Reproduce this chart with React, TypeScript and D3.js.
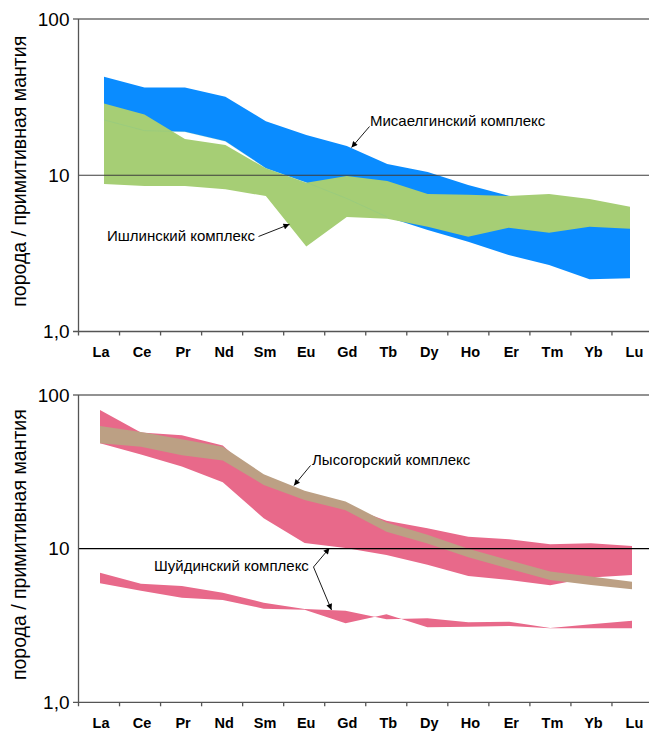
import React from "react";
import * as d3 from "d3";

// Rare earth elements along the x axis
const elements = ["La", "Ce", "Pr", "Nd", "Sm", "Eu", "Gd", "Tb", "Dy", "Ho", "Er", "Tm", "Yb", "Lu"];

// Y axis tick values and their labels
const yTicks = [1, 10, 100];
const yTickLabels = ["1,0", "10", "100"];

// Upper panel: Мисаелгинский комплекс (range of normalised contents)
const misaelgaMax = [42.7, 36.5, 36.5, 31.8, 22.2, 18.1, 15.4, 11.8, 10.5, 8.65, 7.4, 6.8, 6.3, 6.0];
const misaelgaMin = [22.6, 19.3, 19.0, 16.5, 11.1, 9.0, 7.1, 5.4, 4.46, 3.75, 3.09, 2.66, 2.16, 2.19];

// Upper panel: Ишлинский комплекс
const ishlaMax = [28.8, 24.5, 17.05, 15.6, 11.07, 8.95, 9.88, 9.18, 7.58, 7.5, 7.36, 7.58, 7.04, 6.29];
const ishlaMin = [8.78, 8.53, 8.53, 8.13, 7.36, 3.5, 5.4, 5.27, 4.68, 4.04, 4.61, 4.29, 4.68, 4.55];

// Lower panel: Шуйдинский комплекс, upper group
const shuyUpperMax = [80, 57, 54.7, 47, 27, 22, 19, 15.2, 13.6, 11.96, 11.5, 10.67, 10.84, 10.4];
const shuyUpperMin = [48.5, 41, 34.2, 27, 15.8, 10.9, 10.1, 9.1, 7.85, 6.64, 6.25, 5.77, 6.5, 6.74];

// Lower panel: Шуйдинский комплекс, lower group (two bounding samples)
const shuyLowerA = [6.97, 5.9, 5.71, 5.17, 4.45, 4.05, 3.95, 3.47, 3.52, 3.32, 3.35, 3.04, 3.22, 3.4];
const shuyLowerB = [5.95, 5.32, 4.8, 4.63, 4.07, 4.0, 3.27, 3.74, 3.08, 3.1, 3.14, 3.03, 3.03, 3.03];

// Lower panel: Лысогорский комплекс
const lysMax = [62.9, 57.5, 51.5, 46, 30.5, 23.8, 20.3, 14.8, 12.3, 10.0, 8.4, 7.1, 6.6, 6.1];
const lysMin = [48.5, 46, 40.5, 37.5, 26, 20.7, 17.8, 12.9, 10.8, 8.8, 7.4, 6.25, 5.8, 5.45];

const W = 649;
const H = 731;
const AXIS_X = 78.5;
const FONT = "'Liberation Sans', Arial, Helvetica, sans-serif";
const yTitle = "порода / примитивная мантия";

type Band = { max: number[]; min: number[]; color: string };
type Note = { text: string; x: number; y: number; from: [number, number]; to: [number, number][] };

type PanelProps = {
  yTop: number;
  yBottom: number;
  dataRange: [number, number];
  bands: Band[];
  midLine: string;
  notes: Note[];
  ghost?: number[];
};

function Panel({ yTop, yBottom, dataRange, bands, midLine, notes, ghost }: PanelProps) {
  const y = d3.scaleLog().domain([1, 100]).range([yBottom, yTop]);
  const xData = d3.scalePoint<string>().domain(elements).range(dataRange);
  const xBand = d3.scaleBand<string>().domain(elements).range([AXIS_X, 653]);

  const bandPath = (b: Band) =>
    d3
      .area<number>()
      .x((_, i) => xData(elements[i]) as number)
      .y0((_, i) => y(b.min[i]))
      .y1((_, i) => y(b.max[i]))(b.max) as string;

  // faint trace of the lower blue boundary showing through the green band
  const ghostPath = ghost
    ? (d3
        .line<number>()
        .x((_, i) => xData(elements[i]) as number)
        .y((v) => y(v))(ghost.slice(0, 8)) as string)
    : null;

  const titleY = (yTop + yBottom) / 2 - 4;

  return (
    <g>
      {bands.map((b, i) => (
        <path key={i} d={bandPath(b)} fill={b.color} stroke="none" />
      ))}
      {ghostPath && (
        <path d={ghostPath} fill="none" stroke="#6fbf9a" strokeOpacity={0.3} strokeWidth={0.7} />
      )}

      {/* horizontal reference lines */}
      <line x1={73} x2={W} y1={y(100)} y2={y(100)} stroke="#6e6e6e" strokeWidth={1.3} />
      <line x1={AXIS_X} x2={W} y1={y(10)} y2={y(10)} stroke={midLine} strokeWidth={1.2} />
      <line x1={73} x2={W} y1={y(1)} y2={y(1)} stroke="#555" strokeWidth={1.3} />
      <line x1={AXIS_X} x2={AXIS_X} y1={yTop} y2={yBottom + 4} stroke="#555" strokeWidth={1.3} />

      {/* x ticks at element boundaries */}
      {elements.slice(1).map((e) => {
        const tx = xBand(e) as number;
        return <line key={e} x1={tx} x2={tx} y1={yBottom} y2={yBottom + 4} stroke="#555" strokeWidth={1.3} />;
      })}

      {/* x labels */}
      {elements.map((e) => (
        <text
          key={e}
          x={(xBand(e) as number) + xBand.bandwidth() / 2 + 2}
          y={yBottom + 25.5}
          textAnchor="middle"
          fontFamily={FONT}
          fontWeight="bold"
          fontSize={14.5}
          fill="#000"
        >
          {e}
        </text>
      ))}

      {/* y tick labels */}
      {yTicks.map((t, i) => (
        <text
          key={t}
          x={69.5}
          y={y(t) + 6.8}
          textAnchor="end"
          fontFamily={FONT}
          fontSize={19}
          fill="#000"
        >
          {yTickLabels[i]}
        </text>
      ))}

      {/* y axis title */}
      <text
        transform={`translate(25.5,${titleY}) rotate(-90)`}
        textAnchor="middle"
        fontFamily={FONT}
        fontSize={19.5}
        fill="#000"
      >
        {yTitle}
      </text>

      {/* annotations */}
      {notes.map((n, i) => (
        <g key={i}>
          <text x={n.x} y={n.y} fontFamily={FONT} fontSize={15} fill="#000">
            {n.text}
          </text>
          {n.to.map((t, j) => (
            <line
              key={j}
              x1={n.from[0]}
              y1={n.from[1]}
              x2={t[0]}
              y2={t[1]}
              stroke="#000"
              strokeWidth={0.9}
              markerEnd="url(#arrow)"
            />
          ))}
        </g>
      ))}
    </g>
  );
}

export default function App() {
  return (
    <svg
      width={W}
      height={H}
      viewBox={`0 0 ${W} ${H}`}
      style={{ position: "absolute", left: 0, top: 0, background: "#fff" }}
    >
      <defs>
        <marker
          id="arrow"
          viewBox="0 0 10 10"
          refX={10}
          refY={5}
          markerWidth={8}
          markerHeight={6}
          markerUnits="userSpaceOnUse"
          orient="auto"
        >
          <path d="M0,0 L10,5 L0,10 z" fill="#000" />
        </marker>
      </defs>
      <rect x={0} y={0} width={W} height={H} fill="#fff" />

      <Panel
        yTop={19}
        yBottom={331.5}
        dataRange={[104, 630]}
        midLine="#3c3c3c"
        bands={[
          { max: misaelgaMax, min: misaelgaMin, color: "#0a8cff" },
          { max: ishlaMax, min: ishlaMin, color: "#a6ce75" },
        ]}
        ghost={misaelgaMin}
        notes={[
          { text: "Мисаелгинский комплекс", x: 370, y: 125.5, from: [369.5, 126.5], to: [[351.5, 147.5]] },
          { text: "Ишлинский комплекс", x: 107, y: 241, from: [258.5, 236.5], to: [[289.5, 224.3]] },
        ]}
      />

      <Panel
        yTop={395}
        yBottom={702.3}
        dataRange={[100, 632]}
        midLine="#000"
        bands={[
          { max: shuyUpperMax, min: shuyUpperMin, color: "#e8698a" },
          { max: shuyLowerA, min: shuyLowerB, color: "#e8698a" },
          { max: lysMax, min: lysMin, color: "#bca084" },
        ]}
        notes={[
          { text: "Лысогорский комплекс", x: 312, y: 465, from: [310.5, 465.5], to: [[294, 485.5]] },
          {
            text: "Шуйдинский комплекс",
            x: 154,
            y: 571,
            from: [313.5, 567],
            to: [
              [329.5, 548],
              [331.5, 610],
            ],
          },
        ]}
      />
    </svg>
  );
}
